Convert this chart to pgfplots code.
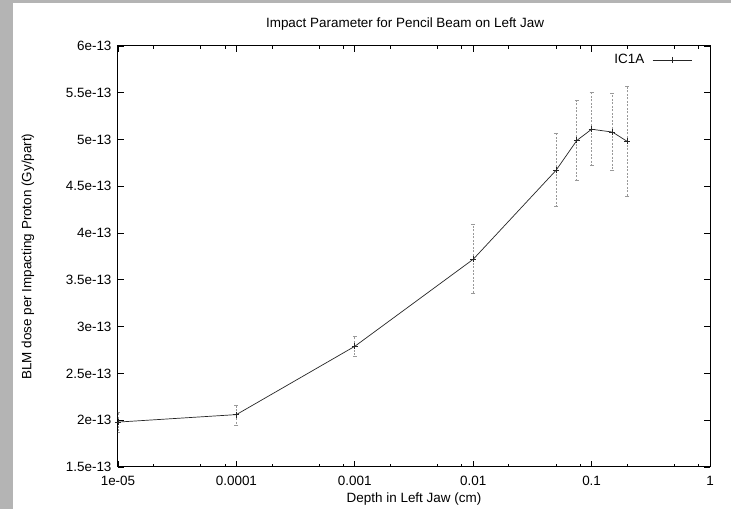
\documentclass[border=0pt]{standalone}
\usepackage{pgfplots}
\pgfplotsset{compat=1.18}
\usepackage{fontspec}
\setmainfont{Liberation Sans}
\definecolor{graybg}{RGB}{180,180,180}
\begin{document}
\begin{tikzpicture}[x=1bp,y=1bp]
\fill[white] (0,0) rectangle (731,509);
\fill[graybg] (0,0) rectangle (13,509);
\fill[graybg] (0,506) rectangle (731,509);
\begin{axis}[
  at={(118bp,42bp)}, anchor=south west,
  width=592bp, height=421bp, scale only axis,
  xmode=log, xmin=1e-5, xmax=1,
  ymin=1.5e-13, ymax=6e-13,
  scaled y ticks=false,
  xtick={1e-5,1e-4,1e-3,1e-2,1e-1,1},
  xticklabels={1e-05,0.0001,0.001,0.01,0.1,1},
  minor xtick={2e-5,5e-5,8e-5,2e-4,5e-4,8e-4,2e-3,5e-3,8e-3,2e-2,5e-2,8e-2,2e-1,5e-1,8e-1},
  ytick={1.5e-13,2e-13,2.5e-13,3e-13,3.5e-13,4e-13,4.5e-13,5e-13,5.5e-13,6e-13},
  yticklabels={1.5e-13,2e-13,2.5e-13,3e-13,3.5e-13,4e-13,4.5e-13,5e-13,5.5e-13,6e-13},
  tick align=inside,
  major tick length=6bp, minor tick length=3bp,
  tick style={black, line width=0.8pt},
  axis line style={black, line width=1pt},
  every tick label/.append style={font=\fontsize{13.5}{15}\selectfont},
  /pgf/number format/assume math mode=true,
  xticklabel style={yshift=-6bp},
  yticklabel style={xshift=-3bp},
  xlabel={Depth in Left Jaw (cm)},
  ylabel={BLM dose per Impacting Proton (Gy/part)},
  label style={font=\fontsize{13.5}{15}\selectfont},
  xlabel style={at={(axis description cs:0.5,-0.076)}, anchor=center},
  ylabel style={at={(axis description cs:-0.152,0.5)}, anchor=center, rotate=0},
  title={Impact Parameter for Pencil Beam on Left Jaw},
  title style={at={(axis description cs:0.485,1.038)}, anchor=center, font=\fontsize{13.5}{15}\selectfont},
  legend style={at={(axis description cs:0.975,0.967)}, anchor=east, draw=none, fill=none,
    font=\fontsize{13.5}{15}\selectfont,
    /tikz/every odd column/.append style={column sep=6bp}},
  legend plot pos=right,
  legend image code/.code={\draw[#1, mark repeat=2, mark phase=2] plot coordinates {(0bp,0bp) (19.5bp,0bp) (39bp,0bp)};},
]
\addplot[
  black!85, line width=0.7pt,
  mark=+, mark size=3bp, mark options={solid, line width=0.7pt},
  error bars/.cd, y dir=both, y explicit,
  error bar style={gray!80, dash pattern=on 2bp off 1.5bp, line width=0.7pt},
  error mark options={rotate=90, mark size=2bp, gray!80, line width=0.7pt},
] table[x=x, y=y, y error plus=ep, y error minus=em] {
x       y         ep        em
1e-5    1.98e-13  0.10e-13  0.11e-13
1e-4    2.06e-13  0.10e-13  0.11e-13
1e-3    2.79e-13  0.11e-13  0.11e-13
1e-2    3.72e-13  0.37e-13  0.36e-13
0.05    4.67e-13  0.40e-13  0.38e-13
0.075   4.99e-13  0.43e-13  0.43e-13
0.1     5.11e-13  0.39e-13  0.39e-13
0.15    5.08e-13  0.41e-13  0.41e-13
0.2     4.98e-13  0.59e-13  0.59e-13
};
\addlegendentry{IC1A}
\end{axis}
\path[use as bounding box] (0,0) rectangle (731,509);
\end{tikzpicture}
\end{document}
